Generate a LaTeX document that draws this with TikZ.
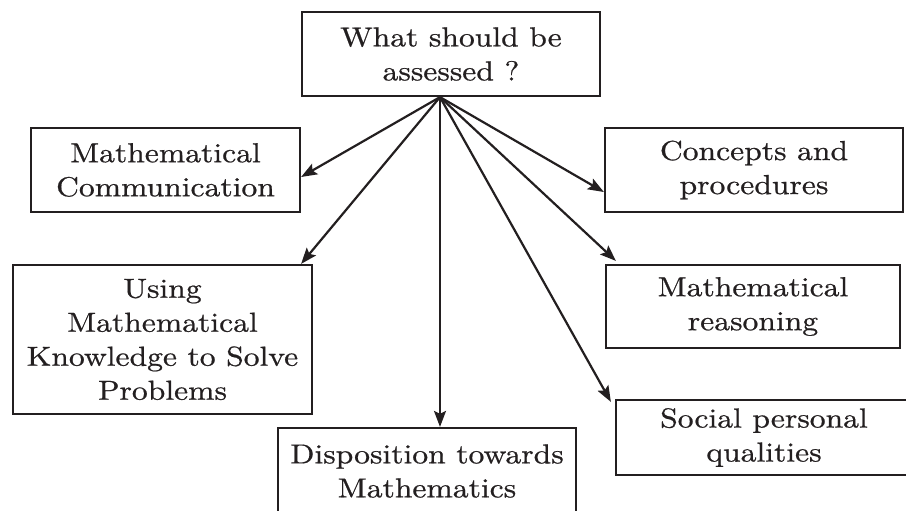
\documentclass[tikz,border=0pt]{standalone}
\usepackage{fontspec}
\setmainfont{lmroman10-regular.otf}[FakeStretch=1.15,FakeBold=0.7]
\usetikzlibrary{arrows.meta,calc}
\definecolor{ink}{HTML}{231F20}
\begin{document}
\begin{tikzpicture}[x=1pt,y=-1pt,
  box/.style={draw=ink,text=ink,line width=2.2pt,inner sep=0pt,align=center,
    font=\fontsize{27.5}{34}\selectfont},
  arr/.style={draw=ink,line width=2.2pt,-{Stealth[length=16pt,width=12pt,inset=3pt]}}]
\useasboundingbox (0,0) rectangle (906,511);
\clip (0,0) rectangle (906,511);
\node[box,minimum width=298pt,minimum height=84pt] (top) at (451,54) {What should be\\assessed ?};
\node[box,minimum width=269pt,minimum height=84pt] (comm) at (165.5,170) {Mathematical\\Communication};
\node[box,minimum width=299pt,minimum height=149pt] (using) at (162.5,339.5) {Using\\Mathematical\\Knowledge to Solve\\Problems};
\node[box,minimum width=298pt,minimum height=86pt] (disp) at (427,471) {Disposition towards\\Mathematics};
\node[box,minimum width=298pt,minimum height=84pt] (conc) at (754,170) {Concepts and\\procedures};
\node[box,minimum width=294pt,minimum height=83pt] (reas) at (753,306.5) {Mathematical\\reasoning};
\node[box,minimum width=296pt,minimum height=75pt] (soc) at (764,437.5) {Social personal\\qualities};
\coordinate (o) at ([xshift=-11pt]top.south);
\draw[arr] (o) -- ([yshift=-7pt]comm.east);
\draw[arr] (o) -- ([xshift=-12pt]using.north east);
\draw[arr] (o) -- (o |- disp.north);
\draw[arr] (o) -- ([yshift=-22pt]conc.west);
\draw[arr] (o) -- ([xshift=11pt,yshift=3pt]reas.north west);
\draw[arr] (o) -- ([xshift=-4pt,yshift=-3pt]soc.north west);
\end{tikzpicture}
\end{document}
